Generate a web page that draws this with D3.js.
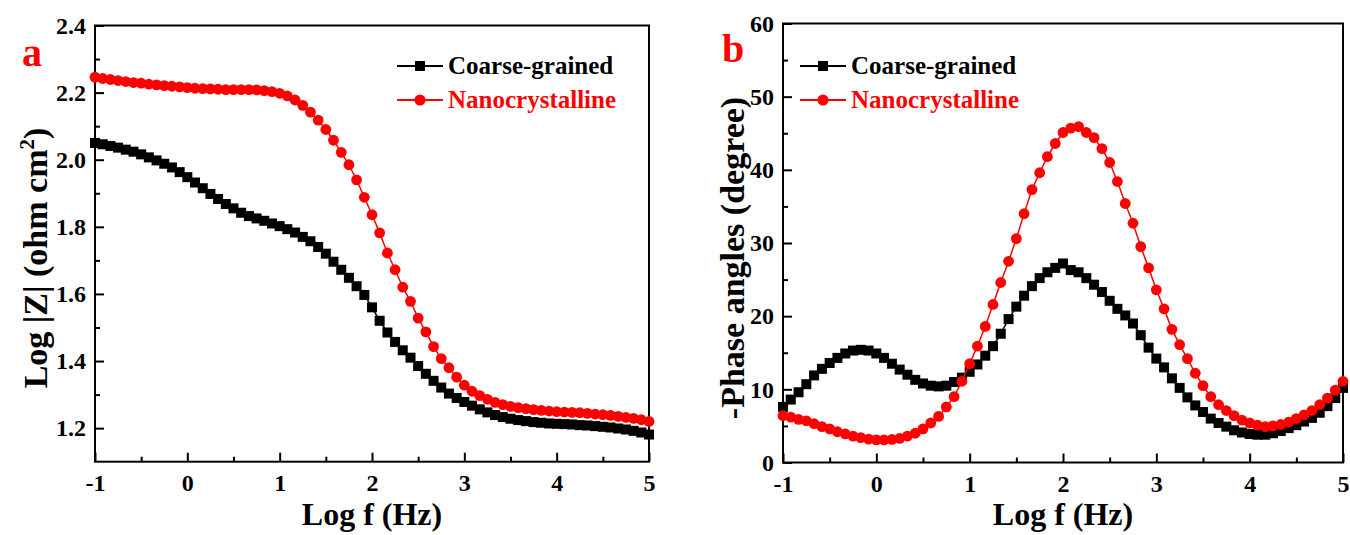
<!DOCTYPE html>
<html>
<head>
<meta charset="utf-8">
<script src="https://cdn.jsdelivr.net/npm/d3@7/dist/d3.min.js"></script>
<style>
  body { margin: 0; background: #fff; }
  svg text { font-family: "Liberation Serif", "Times New Roman", serif; font-weight: bold; }
</style>
</head>
<body>
<svg id="chart" width="1350" height="535"></svg>
<script>
// Log frequency (Hz) of each measured point
const logF = [
  -1, -0.917, -0.833, -0.75, -0.667, -0.583, -0.5, -0.417, -0.333, -0.25, -0.167, -0.083,
  0, 0.083, 0.167, 0.25, 0.333, 0.417, 0.5, 0.583, 0.667, 0.75, 0.833, 0.917,
  1, 1.083, 1.167, 1.25, 1.333, 1.417, 1.5, 1.583, 1.667, 1.75, 1.833, 1.917,
  2, 2.083, 2.167, 2.25, 2.333, 2.417, 2.5, 2.583, 2.667, 2.75, 2.833, 2.917,
  3, 3.083, 3.167, 3.25, 3.333, 3.417, 3.5, 3.583, 3.667, 3.75, 3.833, 3.917,
  4, 4.083, 4.167, 4.25, 4.333, 4.417, 4.5, 4.583, 4.667, 4.75, 4.833, 4.917,
  5
];

// Panel a: Log |Z|
const coarseZ = [
  2.050, 2.046, 2.041, 2.036, 2.030, 2.024, 2.016, 2.007, 1.998, 1.988, 1.977, 1.963,
  1.948, 1.932, 1.915, 1.898, 1.883, 1.868, 1.855, 1.842, 1.832, 1.825, 1.818, 1.810,
  1.802, 1.793, 1.783, 1.770, 1.757, 1.740, 1.720, 1.696, 1.672, 1.648, 1.623, 1.597,
  1.560, 1.520, 1.485, 1.457, 1.432, 1.410, 1.385, 1.362, 1.341, 1.321, 1.303, 1.290,
  1.278, 1.267, 1.256, 1.247, 1.239, 1.233, 1.228, 1.224, 1.221, 1.218, 1.216, 1.214,
  1.213, 1.212, 1.211, 1.209, 1.208, 1.206, 1.204, 1.202, 1.199, 1.196, 1.192, 1.187,
  1.181
];
const nanoZ = [
  2.246, 2.242, 2.239, 2.236, 2.233, 2.230, 2.228, 2.225, 2.223, 2.221, 2.219, 2.217,
  2.215, 2.213, 2.212, 2.211, 2.210, 2.209, 2.209, 2.209, 2.209, 2.208, 2.206, 2.203,
  2.198, 2.190, 2.178, 2.162, 2.142, 2.118, 2.090, 2.058, 2.022, 1.985, 1.940, 1.888,
  1.836, 1.782, 1.722, 1.672, 1.620, 1.578, 1.528, 1.487, 1.443, 1.407, 1.380, 1.352,
  1.328, 1.310, 1.297, 1.286, 1.277, 1.270, 1.265, 1.261, 1.258, 1.255, 1.253, 1.251,
  1.249, 1.248, 1.247, 1.246, 1.244, 1.242, 1.240, 1.238, 1.235, 1.232, 1.229, 1.225,
  1.220
];

// Panel b: -Phase angle (degree)
const coarsePhase = [
  7.6, 8.6, 9.6, 10.7, 11.9, 12.8, 13.6, 14.3, 14.9, 15.3, 15.4, 15.3,
  14.9, 14.3, 13.5, 12.7, 12.0, 11.3, 10.8, 10.5, 10.4, 10.5, 11.0, 11.6,
  12.4, 13.4, 14.6, 15.9, 17.6, 19.6, 21.3, 22.8, 24.1, 25.2, 26.0, 26.6,
  27.2, 26.3, 26.0, 25.2, 24.3, 23.3, 22.1, 21.0, 20.1, 19.0, 17.4, 15.7,
  14.2, 13.0, 11.5, 10.2, 8.9, 7.8, 6.9, 6.0, 5.4, 4.9, 4.4, 4.1,
  3.9, 3.8, 3.8, 4.0, 4.3, 4.7, 5.1, 5.6, 6.1, 6.8, 7.7, 8.8,
  10.2
];
const nanoPhase = [
  6.4, 6.2, 5.9, 5.7, 5.3, 4.9, 4.6, 4.2, 3.9, 3.6, 3.4, 3.2,
  3.1, 3.1, 3.15, 3.3, 3.6, 4.0, 4.6, 5.4, 6.3, 7.6, 9.0, 11.1,
  13.5, 15.9, 18.6, 21.6, 24.6, 27.5, 30.6, 34.0, 37.3, 39.6, 41.8, 43.6,
  45.1, 45.7, 45.9, 45.1, 44.4, 42.9, 41.0, 38.4, 35.4, 32.7, 29.5, 26.6,
  23.6, 21.0, 18.2, 16.1, 14.2, 12.2, 10.5, 9.0, 7.9, 7.1, 6.4, 5.8,
  5.4, 5.1, 4.9, 5.0, 5.2, 5.5, 6.0, 6.5, 7.1, 7.9, 8.8, 9.9,
  11.1
];

// Tick values
const xTicks = [-1, 0, 1, 2, 3, 4, 5];
const xMinorTicks = [-0.5, 0.5, 1.5, 2.5, 3.5, 4.5];
const zTicks = [1.2, 1.4, 1.6, 1.8, 2.0, 2.2, 2.4];
const zMinorTicks = [1.3, 1.5, 1.7, 1.9, 2.1, 2.3];
const phaseTicks = [0, 10, 20, 30, 40, 50, 60];
const phaseMinorTicks = [5, 15, 25, 35, 45, 55];

const seriesNames = ["Coarse-grained", "Nanocrystalline"];
const colors = { "Coarse-grained": "#000000", "Nanocrystalline": "#ff0000" };

const svg = d3.select("#chart");

function drawPanel(cfg) {
    const g = svg.append("g");

    const x = d3.scaleLinear().domain([-1, 5]).range([cfg.left, cfg.right]);
    const y = d3.scaleLinear().domain(cfg.yDomain).range([cfg.bottom, cfg.top]);

    // Ticks (pointing inward)
    g.append("g")
        .attr("transform", `translate(0,${cfg.bottom})`)
        .call(d3.axisBottom(x).tickValues(xTicks).tickSize(-9).tickPadding(12).tickFormat(d => String(d)));
    g.append("g")
        .attr("transform", `translate(0,${cfg.bottom})`)
        .call(d3.axisBottom(x).tickValues(xMinorTicks).tickSize(-5).tickFormat(""));

    g.append("g")
        .attr("transform", `translate(${cfg.left},0)`)
        .call(d3.axisLeft(y).tickValues(cfg.yTicks).tickSize(-9).tickPadding(9).tickFormat(cfg.yFormat));
    g.append("g")
        .attr("transform", `translate(${cfg.left},0)`)
        .call(d3.axisLeft(y).tickValues(cfg.yMinor).tickSize(-5).tickFormat(""));

    g.selectAll(".domain").remove();
    g.selectAll(".tick line").attr("stroke", "#000").attr("stroke-width", 2);
    g.selectAll(".tick text").attr("fill", "#000").style("font-size", "24px");

    // Frame
    g.append("rect")
        .attr("x", cfg.left).attr("y", cfg.top)
        .attr("width", cfg.right - cfg.left).attr("height", cfg.bottom - cfg.top)
        .attr("fill", "none").attr("stroke", "#000").attr("stroke-width", 2);

    // Curves with markers
    const line = d3.line().x(d => x(d.x)).y(d => y(d.y));
    cfg.series.forEach(s => {
        const pts = logF.map((f, i) => ({ x: f, y: s.values[i] }));
        g.append("path")
            .datum(pts)
            .attr("fill", "none")
            .attr("stroke", colors[s.name])
            .attr("stroke-width", 1.5)
            .attr("d", line);
        if (s.shape === "square") {
            g.selectAll(null).data(pts).enter().append("rect")
                .attr("x", d => x(d.x) - 5).attr("y", d => y(d.y) - 5)
                .attr("width", 10).attr("height", 10)
                .attr("fill", colors[s.name]);
        } else {
            g.selectAll(null).data(pts).enter().append("circle")
                .attr("cx", d => x(d.x)).attr("cy", d => y(d.y))
                .attr("r", 5.4)
                .attr("fill", colors[s.name]);
        }
    });

    // Legend
    const legend = g.selectAll(".legend")
        .data(cfg.series)
        .enter().append("g")
        .attr("transform", (d, i) => `translate(${cfg.legendX},${cfg.legendY + i * 34})`);
    legend.append("line")
        .attr("x1", 0).attr("x2", 46)
        .attr("stroke", d => colors[d.name]).attr("stroke-width", 2);
    legend.each(function(d) {
        const lg = d3.select(this);
        if (d.shape === "square") {
            lg.append("rect").attr("x", 18).attr("y", -5).attr("width", 10).attr("height", 10).attr("fill", colors[d.name]);
        } else {
            lg.append("circle").attr("cx", 23).attr("cy", 0).attr("r", 5.6).attr("fill", colors[d.name]);
        }
    });
    legend.append("text")
        .attr("x", 51).attr("y", 8)
        .attr("fill", d => colors[d.name])
        .style("font-size", "25px")
        .text(d => d.name);

    // Axis titles
    g.append("text")
        .attr("x", (cfg.left + cfg.right) / 2).attr("y", 525)
        .attr("text-anchor", "middle")
        .style("font-size", "32px")
        .text("Log f (Hz)");

    const yt = g.append("text")
        .attr("transform", `translate(${cfg.yTitleX},258) rotate(-90)`)
        .attr("text-anchor", "middle")
        .style("font-size", "34px");
    cfg.yTitle(yt);

    // Panel letter
    g.append("text")
        .attr("x", cfg.letterX).attr("y", cfg.letterY)
        .attr("fill", "#ff0000")
        .style("font-size", "40px")
        .text(cfg.letter);
}

drawPanel({
    left: 95, right: 649, top: 25.5, bottom: 461.7,
    yDomain: [1.1, 2.4], yTicks: zTicks, yMinor: zMinorTicks,
    yFormat: d3.format(".1f"),
    series: [
        { name: seriesNames[0], values: coarseZ, shape: "square" },
        { name: seriesNames[1], values: nanoZ, shape: "circle" }
    ],
    legendX: 397, legendY: 66,
    yTitleX: 47,
    yTitle: t => {
        t.append("tspan").text("Log |Z| (ohm cm");
        t.append("tspan").attr("dy", -13).style("font-size", "21px").text("2");
        t.append("tspan").attr("dy", 13).text(")");
    },
    letter: "a", letterX: 22, letterY: 66
});

drawPanel({
    left: 783, right: 1343, top: 23.5, bottom: 462.5,
    yDomain: [0, 60], yTicks: phaseTicks, yMinor: phaseMinorTicks,
    yFormat: d => String(d),
    series: [
        { name: seriesNames[0], values: coarsePhase, shape: "square" },
        { name: seriesNames[1], values: nanoPhase, shape: "circle" }
    ],
    legendX: 800, legendY: 66,
    yTitleX: 744,
    yTitle: t => t.text("-Phase angles (degree)"),
    letter: "b", letterX: 722, letterY: 62
});
</script>
</body>
</html>
